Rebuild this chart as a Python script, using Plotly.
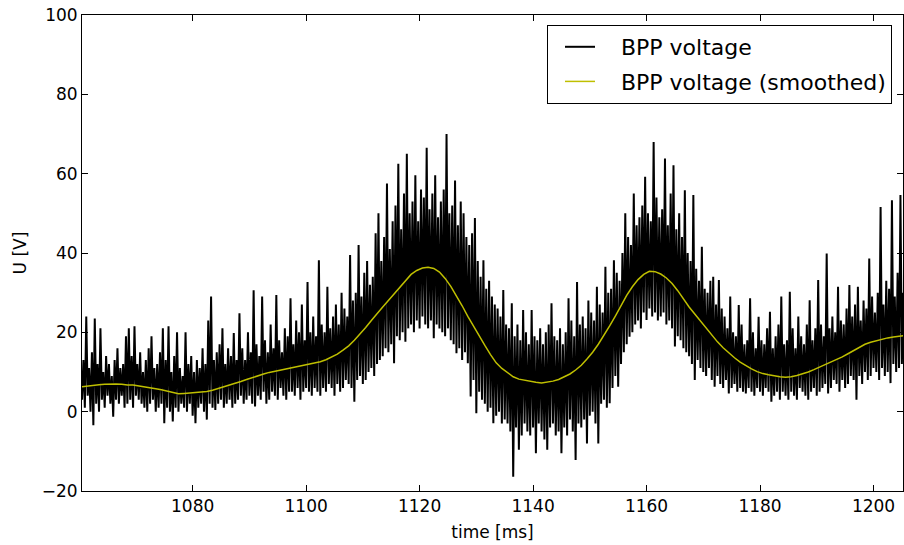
import plotly.graph_objects as go

# sampling grid of the raw and the smoothed series (ms)
t_start = 1060.5
dt_raw = 0.25
dt_smooth = 1.0

# BPP voltage [V], raw signal, 4 samples per ms
bpp_voltage = [
    3, 13, 1, 24,   4, 11, 0, 15,   -3.4, 23.5, 2, 12,   0, 21, 3, 10,
    1, 14, 4, 12,   2, 9, -1.3, 13,   3, 16, 2, 11,   4, 12, 1, 19,
    2, 21, 3, 14,   1, 21.5, 4, 12,   3, 15, 2, 10,   1, 13, 0, 16,
    2, 19, 3, 11,   0, 12, 1, 15,   2, 21, -2.9, 13,   1, 21.5, 0, 10,
    -2.5, 14, 1, 20,   0, 11, 2, 9,   1, 20, 0, 12,   2, 14, -1, 10,
    -2.9, 13, 1, 11,   2, 16, 0, 12,   -2, 23, 2, 29,   1, 13, 0.4, 15,
    2, 17, 3, 21,   1, 12, 2, 16,   3, 14, 1, 19.8,   2, 13, 3, 24.8,
    4, 16, 2, 13,   3, 20, 4, 15,   2, 30.6, 1.3, 17,   4, 14, 3, 29,
    5, 18, 2, 15,   3, 22, 5, 16,   4, 29.4, 3, 18,   6, 15, 4, 21,
    3, 19, 5, 28.6,   5, 17, 4, 23,   6, 20, 3, 27,   5, 18, 6, 32.7,
    5, 20, 4, 24,   6, 19, 5, 38.2,   4, 22, 6, 20,   5, 31.5, 7, 21,
    6, 24, 4, 27,   7, 22, 5, 30,   6, 26, 8, 24,   7, 39.5, 6, 28,
    2.5, 30, 8, 42,   9, 29, 7, 35,   8, 38, 10, 32,   11, 34, 9, 45,
    12, 50, 13, 38,
    14, 44, 16, 57.5,   15, 41, 17, 48,   12.2, 52, 19, 62.5,   18, 46, 20, 55,
    17.6, 65, 21, 50,   22, 53, 20, 59.6,   23, 48, 21, 56,   24, 54, 22, 66.5,
    21, 51, 23, 55,   18.5, 59.6, 22, 49,   21, 53, 20, 56,   19, 70, 21, 50,
    18, 52, 17, 58.3,   14.7, 47, 16, 53,   13, 50, 15, 44,
    12.2, 42, 3.8, 45,   8, 48.8, -0.4, 38,   5, 34, 3, 38.2,   2, 31, 0, 33,
    1, 29, -2.9, 27,   -1, 26, 0, 24,   -3, 30.7, -2, 22,
    -3, 21, -5, 27.3,   -16.4, 19, -4, 22,   -9.6, 18, -6, 25.6,   -3, 20, -5, 17,
    -6, 25.6, -4, 19,   -10.5, 18, -3, 21,   -5, 17, -7, 20,   -9.6, 22, -4, 27.3,
    -3, 19, -6, 18,   -5, 21, -10.5, 17,   -4, 20, -6, 28.6,   -2, 23, -5, 19,
    -12.2, 32.7, -3, 22,
    -4, 24, -2, 21,   -8, 28, -1, 25,   0, 23, -3, 31.5,   -8, 27, 2, 25,
    3, 36.5, 1, 30,   2.1, 31, 6, 38.2,   9, 35, 6.3, 33,
    12, 40, 15, 50,   17, 44, 18.9, 42,   20, 55, 22, 47,   23, 49, 21, 52,
    25, 59.2, 23.1, 50,   26, 48, 24, 68,   25, 54, 23, 49,   24, 51, 25, 63.8,
    22, 47, 23, 55,   21, 62.1, 16.4, 46,   19, 50, 18, 44,
    16, 55.8, 15, 40,   14, 38, 12, 54.6,   8, 36, 13, 33,   11, 41.6, 10, 31,
    9, 30, 11, 33,   8, 34, 6.3, 27,
    9, 33.2, 7, 26,   6, 24, 8, 21,   4.6, 29, 6, 20,   7, 19, 5, 26.9,
    6, 22, 5, 17,   4.6, 18, 6, 28.6,   5, 20, 4, 16,   6, 23.9, 5, 18,
    4, 17, 6, 21,   5, 25.2, 2.5, 16,   4, 19, 5, 22,   3, 29, 5, 17,
    4, 18, 3, 30.2,   5, 21, 4, 16,   3, 24, 6, 19,   5, 17, 4, 22,
    3, 28.1, 5, 18,   6, 21, 4, 33.2,
    5, 22, 6, 19,   7, 39.9, 4.6, 21,   6, 24, 8, 20,   7, 31.5, 5, 23,
    8, 22, 6, 26,   7, 31.9, 9, 24,   8, 27, 3, 31.5,   9, 23, 7, 28,
    10, 26, 8, 38.6,   9, 29, 11, 25,   10, 30, 8, 51.6,   11, 27, 9, 33,
    10, 31, 7.2, 53.3,   12, 29, 10, 35,   11, 54.6, 12, 30,
]

# BPP voltage (smoothed) [V], one sample per ms
bpp_smoothed = [
    6.3, 6.5, 6.7, 6.8, 6.9, 7.0, 7.0, 6.9, 6.7, 6.7,
    6.5, 6.3, 6.1, 5.8, 5.5, 5.2, 4.8, 4.5, 4.6, 4.7,
    4.8, 4.9, 5.1, 5.4, 5.8, 6.2, 6.7, 7.1, 7.6, 8.1,
    8.6, 9.1, 9.5, 9.9, 10.2, 10.5, 10.8, 11.1, 11.4, 11.7,
    11.9, 12.2, 12.6, 13.1, 13.7, 14.5, 15.5, 16.6, 18.0, 19.5,
    21.2, 23.0, 24.8, 26.4, 28.0, 29.7, 31.4, 33.0, 34.6, 35.6,
    36.2, 36.4, 36.1, 35.2, 33.6, 31.6, 29.2, 26.7, 24.0, 21.5,
    19.1, 16.7, 14.4, 12.3, 10.9, 9.8, 8.8, 8.2, 7.9, 7.6,
    7.4, 7.2, 7.4, 7.7, 8.1, 8.7, 9.5, 10.5, 11.7, 13.3,
    15.0, 17.0, 19.2, 21.6, 24.1, 26.7, 29.3, 31.5, 33.3, 34.6,
    35.4, 35.3, 34.7, 33.7, 32.3, 30.5, 28.4, 26.4, 24.6, 22.8,
    20.9, 19.2, 17.6, 16.1, 14.8, 13.6, 12.5, 11.6, 10.8, 10.1,
    9.6, 9.3, 9.0, 8.8, 8.7, 8.8, 9.1, 9.5, 10.0, 10.6,
    11.2, 11.8, 12.5, 13.1, 13.8, 14.6, 15.4, 16.2, 17.0, 17.5,
    17.9, 18.3, 18.6, 18.8, 19.0, 19.2,
]

x_ticks = [1080, 1100, 1120, 1140, 1160, 1180, 1200]
y_ticks = [-20, 0, 20, 40, 60, 80, 100]
x_range = [1060.5, 1205.2]
y_range = [-20, 100]

time_raw = [t_start + i * dt_raw for i in range(len(bpp_voltage))]
time_smooth = [t_start + i * dt_smooth for i in range(len(bpp_smoothed))]

FONT = "DejaVu Sans"
GAP = "\u00a0\u00a0\u00a0"  # gap between legend line sample and its label

fig = go.Figure()
fig.add_trace(go.Scatter(
    x=time_raw, y=bpp_voltage, mode="lines", name=GAP + "BPP voltage",
    line=dict(color="black", width=2.0, simplify=False), legendgroup="a",
))
fig.add_trace(go.Scatter(
    x=time_smooth, y=bpp_smoothed, mode="lines", name=GAP + "BPP voltage (smoothed)",
    line=dict(color="#bfbf00", width=1.5), legendgroup="b",
))

axis_common = dict(
    showline=True, linecolor="black", linewidth=1, mirror="ticks",
    ticks="inside", ticklen=6, tickwidth=1, tickcolor="black",
    showgrid=False, zeroline=False, automargin=False,
    tickfont=dict(family=FONT, size=17, color="black"),
)

fig.update_xaxes(
    range=x_range, tickvals=x_ticks, ticktext=[str(v) for v in x_ticks],
    title=dict(text="time [ms]", font=dict(family=FONT, size=17, color="black"), standoff=10),
    **axis_common,
)
fig.update_yaxes(
    range=y_range, tickvals=y_ticks,
    ticktext=[("\u2212" + str(-v)) if v < 0 else str(v) for v in y_ticks],
    title=dict(text="U [V]", font=dict(family=FONT, size=17, color="black"), standoff=10),
    **axis_common,
)

fig.update_layout(
    width=904, height=545,
    margin=dict(l=82, r=1, t=15, b=54, autoexpand=False),
    paper_bgcolor="white", plot_bgcolor="white",
    font=dict(family=FONT, color="black"),
    showlegend=True,
    legend=dict(
        x=0.9866, xanchor="right", y=0.979, yanchor="top",
        bgcolor="white", bordercolor="black", borderwidth=1,
        font=dict(family=FONT, size=22, color="black"),
        traceorder="grouped", tracegroupgap=3, itemwidth=30, indentation=12,
    ),
)

fig.write_html(
    "out.html",
    config={"displayModeBar": False},
    post_script="document.body.style.margin='0px';document.body.style.overflow='hidden';",
)
